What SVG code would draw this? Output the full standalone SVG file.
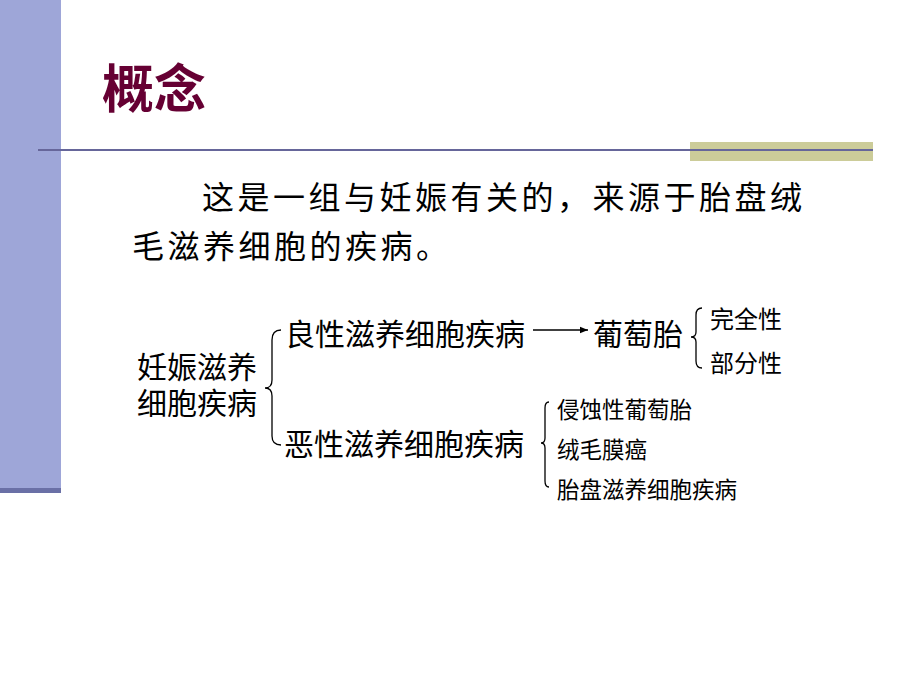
<svg xmlns="http://www.w3.org/2000/svg" width="920" height="690" viewBox="0 0 920 690">
<defs>
<style>
.t{font-family:"Liberation Serif","Noto Sans CJK SC",serif;fill:#000}
.b{fill:none;stroke:#000;stroke-width:1.3}
</style>
<marker id="ah" viewBox="0 0 10 10" refX="10" refY="5" markerWidth="8" markerHeight="8" markerUnits="userSpaceOnUse" orient="auto">
<path d="M0,1 L10,5 L0,9 Z" fill="#000"/>
</marker>
</defs>
<rect width="920" height="690" fill="#fff"/>
<g id="decor">
<rect x="0" y="0" width="61" height="489" fill="#9ea6d8"/>
<rect x="0" y="488" width="61" height="5" fill="#6a70a6"/>
<rect x="690" y="142" width="183" height="19" fill="#cccc99"/>
<rect x="38" y="149" width="835" height="2" fill="#66669a"/>
</g>
<g id="title">
<text x="102" y="108" style="font-family:'Liberation Serif','Noto Sans CJK SC',serif;font-weight:bold;font-size:52px;fill:#660033">概念</text>
</g>
<g id="body">
<text class="t" x="202" y="209" font-size="32" letter-spacing="3.5">这是一组与妊娠有关的，来源于胎盘绒</text>
<text class="t" x="132" y="258" font-size="32" letter-spacing="3.5">毛滋养细胞的疾病。</text>
</g>
<g id="node-root">
<text class="t" x="137" y="378" font-size="30">妊娠滋养</text>
<text class="t" x="137" y="414" font-size="30">细胞疾病</text>
</g>
<g id="node-benign">
<text class="t" x="285" y="345" font-size="30">良性滋养细胞疾病</text>
</g>
<g id="node-malignant">
<text class="t" x="284" y="455" font-size="30">恶性滋养细胞疾病</text>
</g>
<g id="node-mole">
<text class="t" x="593" y="345" font-size="30">葡萄胎</text>
</g>
<g id="node-complete">
<text class="t" x="710" y="328" font-size="24">完全性</text>
</g>
<g id="node-partial">
<text class="t" x="710" y="372" font-size="24">部分性</text>
</g>
<g id="node-invasive">
<text class="t" x="557" y="418" font-size="22.5">侵蚀性葡萄胎</text>
</g>
<g id="node-chorio">
<text class="t" x="557" y="458" font-size="22.5">绒毛膜癌</text>
</g>
<g id="node-pstt">
<text class="t" x="557" y="498" font-size="22.5">胎盘滋养细胞疾病</text>
</g>
<g id="connectors">
<path class="b" d="M281,330 Q272,330 272,340 L272,380 Q272,388 265,388 Q272,388 272,396 L272,436 Q272,445 281,445"/>
<line x1="533" y1="330" x2="588" y2="330" stroke="#000" stroke-width="1.3" marker-end="url(#ah)"/>
<path class="b" d="M702,308 Q696,308 696,315 L696,332 Q696,337 691,337 Q696,337 696,342 L696,361 Q696,368 702,368"/>
<path class="b" d="M549,402 Q545,402 545,408 L545,438 Q545,443 541,443 Q545,443 545,448 L545,481 Q545,487 549,487"/>
</g>
</svg>
